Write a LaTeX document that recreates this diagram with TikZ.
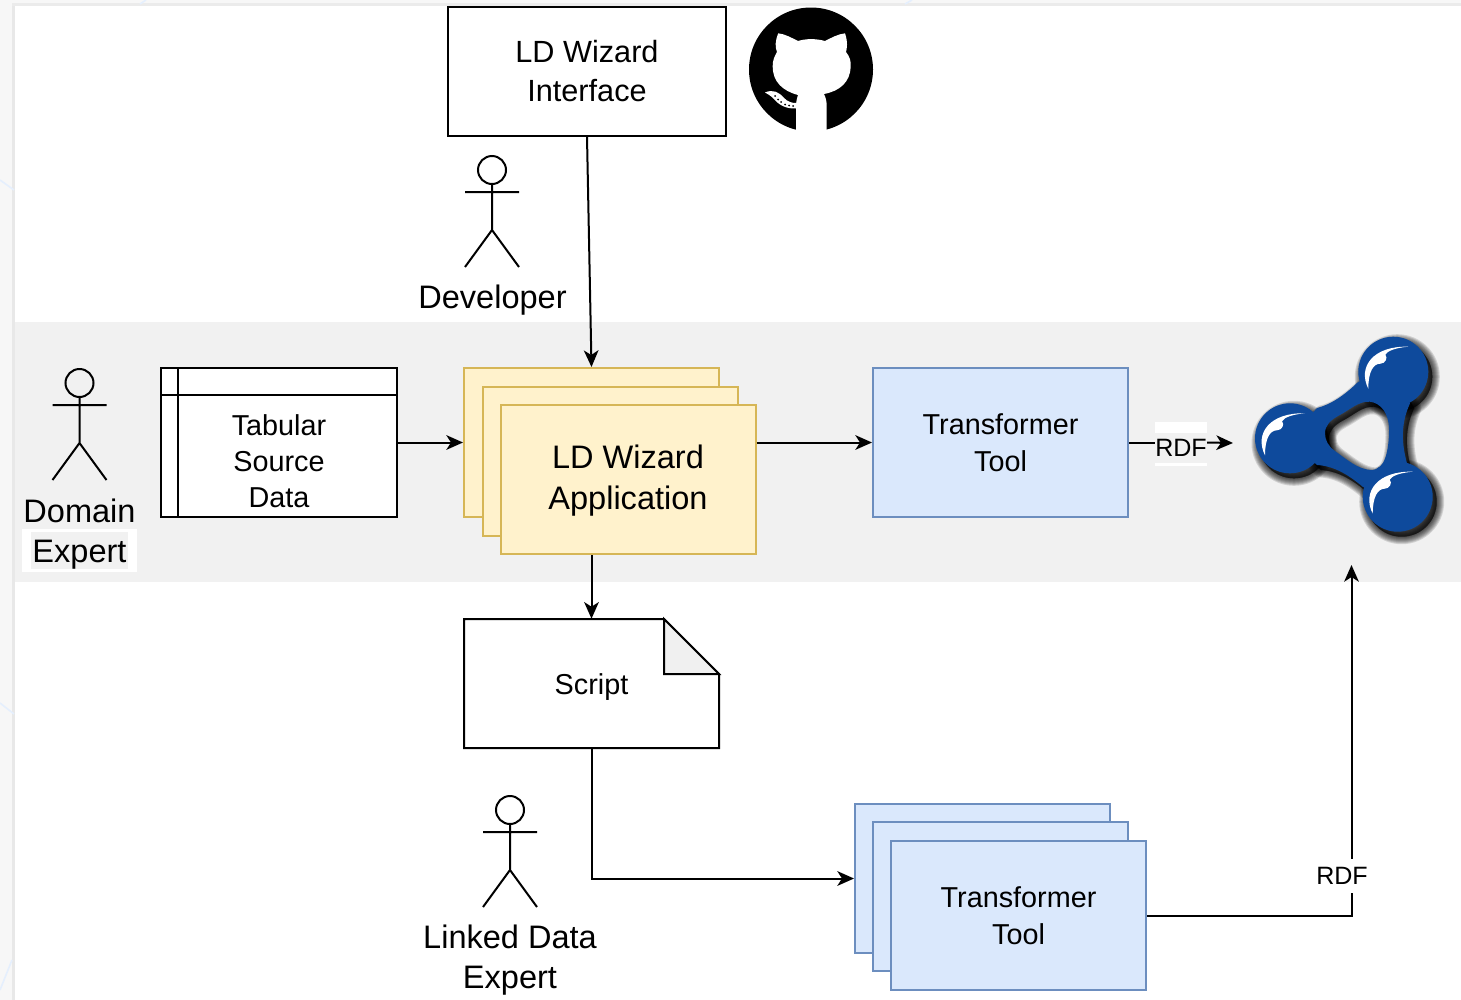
\documentclass[tikz,border=0pt]{standalone}
\usepackage{fontspec}
\setmainfont{Liberation Sans}
\usetikzlibrary{arrows.meta}
\definecolor{band}{HTML}{F1F1F1}
\definecolor{yfill}{HTML}{FFF2CC}
\definecolor{ydraw}{HTML}{D6B656}
\definecolor{bfill}{HTML}{DAE8FC}
\definecolor{bdraw}{HTML}{6C8EBF}
\definecolor{rdfblue}{HTML}{0E4A9C}
\tikzset{
  sized/.style 2 args={minimum width=#1*.75pt,minimum height=#2*.75pt,inner sep=0pt},
  plainbox/.style={draw=black,fill=white,line width=1.5pt},
  ybox/.style={draw=ydraw,fill=yfill,line width=1.5pt},
  bbox/.style={draw=bdraw,fill=bfill,line width=1.5pt},
  conn/.style={draw=black,line width=1.5pt,-{Stealth[length=12.5pt,width=11pt,inset=3.5pt]}},
  connplain/.style={draw=black,line width=1.5pt},
  fa/.style={font=\fontsize{24.4pt}{30.8pt}\selectfont,align=center,inner sep=0pt},
  fb/.style={font=\fontsize{21.6pt}{27.6pt}\selectfont,align=center,inner sep=0pt},
  ft/.style={font=\fontsize{21.6pt}{27.2pt}\selectfont,align=center,inner sep=0pt},
  fc/.style={font=\fontsize{23pt}{29.2pt}\selectfont,align=center,inner sep=0pt},
  fd/.style={font=\fontsize{24.4pt}{30.6pt}\selectfont,align=center,inner sep=0pt},
  fr/.style={font=\fontsize{18.8pt}{22pt}\selectfont,inner sep=0pt},
  actor/.pic={
    \draw[line width=1.5pt] (0,-13) -- (0,33) (-27,-5) -- (27,-5) (-27,70) -- (0,33) -- (27,70);
    \draw[line width=1.5pt] (0,-27) circle[radius=14];
  }
}
\newcommand{\rdfarms}{
  (1393.3,371.7) -- (1358,382) .. controls (1345,395) and (1330,405) .. (1317,408)
  -- (1290,438.3) -- (1317,465)
  .. controls (1335,466) and (1350,476) .. (1363,487)
  -- (1397.7,496.7) -- (1407,463.3)
  .. controls (1402,445) and (1400,425) .. (1410,403.3)
  -- cycle
  (1325,433.3) .. controls (1325,425) and (1331,420) .. (1338,416)
  .. controls (1350,410) and (1358,401) .. (1370,401.7)
  .. controls (1380,403) and (1389,412) .. (1389,430)
  .. controls (1389,450) and (1385,470) .. (1372,470)
  .. controls (1358,470) and (1345,458) .. (1335,451)
  .. controls (1328,446) and (1325,440) .. (1325,433.3) -- cycle
}
\newcommand{\shine}[2]{
  \fill[white,shift={(#1,#2)}] (-25,17) .. controls (-36,-5) and (-20,-26) .. (15,-25)
  .. controls (3,-24) and (-6,-21) .. (-8,-17)
  .. controls (-5,-14) and (-8,-8) .. (-13,-8)
  .. controls (-20,-8) and (-25,0) .. (-25,17) -- cycle;
}
\begin{document}
\begin{tikzpicture}[x=.75pt,y=-.75pt]
\useasboundingbox (0,0) rectangle (1461,1000);
% window edge and faint backdrop
\fill[white] (0,0) rectangle (1461,1000);
\fill[black!3] (0,0) rectangle (15,1000);
\fill[black!3] (0,0) rectangle (1461,5);
\fill[black!9] (12,5) rectangle (15,1000);
\fill[black!8] (12,3) rectangle (1461,5.5);
\draw[bfill!70!white,line width=1.2pt] (0,180) -- (14,190) (0,703) -- (14,714) (140,4) -- (146,0) (905,4) -- (912,0) (0,990) -- (12,960);
% band
\fill[band] (15,322) rectangle (1461,582);
% white patches
\fill[white] (22,529) rectangle (137,572);
\fill[band] (31,532) rectangle (128,569);
\fill[white] (1155,422) rectangle (1207,433);
\fill[white] (1155,463) rectangle (1207,466);

% nodes
\node[plainbox,sized={278}{129},fc] (iface) at (587,71) {LD Wizard\\Interface};
\node[plainbox,sized={236}{149}] (tab) at (279,442.5) {};
\draw[line width=1.5pt] (tab.north west) ++(18,0) -- ++(0,149);
\draw[line width=1.5pt] (tab.north west) ++(0,28) -- ++(236,0);
\node[ft] (tabtext) at (279,461) {Tabular\\Source\\Data};
\node[ybox,sized={255}{149}] (ya) at (591.5,442.5) {};
\node[ybox,sized={255}{149}] (yb) at (610,461) {};
\node[ybox,sized={255}{149}] (yc) at (628,479.5) {};
\node[fa] (yctext) at (628,481) {LD Wizard\\Application};
\node[bbox,sized={255}{149},fb] (tool) at (1000.5,442.5) {Transformer\\Tool};
\node[bbox,sized={255}{149}] (ba) at (982.5,878.5) {};
\node[bbox,sized={255}{149}] (bb) at (1000.5,896.5) {};
\node[bbox,sized={255}{149},fb] (bc) at (1018.5,915.5) {Transformer\\Tool};

% script page
\node[sized={255}{129}] (script) at (591.5,683.5) {};
\draw[line width=1.5pt,fill=white] (464,619) -- (664,619) -- (719,674) -- (719,748) -- (464,748) -- cycle;
\draw[line width=1.5pt,fill=black!6] (664,619) -- (719,674) -- (664,674) -- cycle;
\node[fb] (scripttext) at (591.5,687) {Script};

% actors
\pic at (492,197) {actor};
\pic at (79.5,410) {actor};
\pic at (510,837) {actor};
\node[fd] (dev) at (492.5,300) {Developer};
\node[fd] (domain) at (79.5,534) {Domain\\Expert};
\node[fd] (linked) at (510,960) {Linked Data\\Expert};

% GitHub mark
\fill[black] (811,69.5) circle[radius=62];
\fill[white] (778.3,33.3) .. controls (785,34) and (792,38) .. (798,41)
  .. controls (806,38.5) and (816,38.5) .. (825,41)
  .. controls (831,38) and (838,34) .. (845,33.3)
  .. controls (848,42) and (847,48) .. (846,52)
  .. controls (850,57) and (851,61) .. (850.7,67)
  .. controls (850,82) and (840,91) .. (824,94)
  .. controls (826,98) and (826.7,102) .. (826.7,106) -- (826.7,131.5)
  .. controls (816,133) and (806,133) .. (796,131.5) -- (796,106)
  .. controls (796,102) and (797,98) .. (798,95)
  .. controls (783,91) and (772.5,82) .. (772.7,66)
  .. controls (772.7,61) and (774,57) .. (777,52)
  .. controls (775,47) and (775,41) .. (778.3,33.3) -- cycle;
\fill[white] (765,92.5) .. controls (773,89) and (779,92) .. (784,98)
  .. controls (788,102) and (792,103) .. (796,103) -- (796,108.5)
  .. controls (785,109) and (778,104) .. (774,99) .. controls (771,96) and (768,94) .. (765,92.5) -- cycle;
\foreach \dx/\dy in {775/96,778/99.5,781/102,785/104.5,789/105.5,793/106}
  \fill[black] (\dx,\dy) circle[radius=1];

% RDF mark: soft shadow, then arms, balls and highlights
\begin{scope}[shift={(4,5)}]
  \foreach \w in {15,13,11,9,7,5,3,1}{
    \draw[black,draw opacity=.13,line width=\w*.75pt,fill=black,fill opacity=.13,even odd rule,line join=round] \rdfarms;
    \draw[black,draw opacity=.13,line width=\w*.75pt,fill=black,fill opacity=.13] (1393.3,371.7) circle[radius=35];
    \draw[black,draw opacity=.13,line width=\w*.75pt,fill=black,fill opacity=.13] (1290,438.3) circle[radius=35];
    \draw[black,draw opacity=.13,line width=\w*.75pt,fill=black,fill opacity=.13] (1397.7,496.7) circle[radius=35];
  }
\end{scope}
\fill[rdfblue,even odd rule] \rdfarms;
\fill[rdfblue] (1393.3,371.7) circle[radius=35] (1290,438.3) circle[radius=35] (1397.7,496.7) circle[radius=35];
\shine{1393.3}{371.7}
\shine{1290}{438.3}
\shine{1397.7}{496.7}
\coordinate (rdfin) at (1233,443);
\coordinate (rdfup) at (1351.5,565);

% connectors
\node[fr] (rdfa) at (1181,448) {RDF};
\draw[conn] (iface.south) -- (ya.north);
\draw[conn] (tab.east) -- (ya.west);
\draw[conn] (yc.east |- tool.west) -- (tool.west);
\draw[connplain] (tool.east) -- (rdfa.west |- tool.east);
\draw[conn] (rdfa.east |- tool.east) -- (rdfin);
\draw[conn] (script.north |- yc.south) -- (script.north);
\draw[conn] (script.south) |- (ba.west);
\draw[conn] (bc.east) -| (rdfup);
\node[fr,fill=white,inner ysep=6pt] (rdfb) at (1342,876) {RDF};
\end{tikzpicture}
\end{document}
